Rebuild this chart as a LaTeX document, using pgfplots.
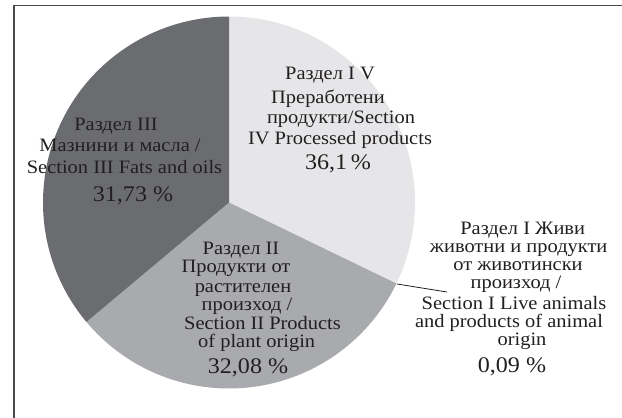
\documentclass[border=0pt]{standalone}
\usepackage{pgfplots}
\usepackage{pgfplotstable}
\pgfplotsset{compat=1.18}
\usepackage{fontspec}
\setmainfont[FakeStretch=1.08]{Liberation Serif}
\definecolor{slLight}{HTML}{E6E6E8}
\definecolor{slMid}{HTML}{A9AAAD}
\definecolor{slDark}{HTML}{6B6C70}
\definecolor{txt}{HTML}{231F20}
\definecolor{frame}{HTML}{4A4A4A}

% slices clockwise from 12 o'clock (values in %)
\pgfplotstableread{
value
32.08
0.09
31.73
36.1
}\piedata

\begin{document}
\begin{tikzpicture}
\pgfplotstablegetelem{0}{value}\of\piedata \let\va\pgfplotsretval
\pgfplotstablegetelem{1}{value}\of\piedata \let\vb\pgfplotsretval
\pgfplotstablegetelem{2}{value}\of\piedata \let\vc\pgfplotsretval
\pgfplotstablegetelem{3}{value}\of\piedata \let\vd\pgfplotsretval
\pgfmathsetmacro\aA{90}
\pgfmathsetmacro\aB{\aA-3.6*\va}
\pgfmathsetmacro\aC{\aB-3.6*\vb}
\pgfmathsetmacro\aD{\aC-3.6*\vc}
\pgfmathsetmacro\aE{\aD-3.6*\vd}
\path[use as bounding box] (0,0) rectangle (622bp,418bp);
\begin{axis}[
  x=1bp, y=1bp,
  xmin=0, xmax=622, ymin=0, ymax=418,
  hide axis, scale only axis,
  anchor=origin, at={(0,0)},
  clip=true,
]
% frame
\draw[frame, line width=1.3bp] (axis cs:14,-50) -- (axis cs:14,412.3) -- (axis cs:700,412.3);
% pie slices
\fill[slLight] (axis cs:229,215.5) -- ++(\aA:186bp) arc[start angle=\aA, end angle=\aB, radius=186bp] -- cycle;
\fill[slLight] (axis cs:229,215.5) -- ++(\aB:186bp) arc[start angle=\aB, end angle=\aC, radius=186bp] -- cycle;
\fill[slMid] (axis cs:229,215.5) -- ++(\aC:186bp) arc[start angle=\aC, end angle=\aD, radius=186bp] -- cycle;
\fill[slDark] (axis cs:229,215.5) -- ++(\aD:186bp) arc[start angle=\aD, end angle=\aE, radius=186bp] -- cycle;
% leader line
\draw[txt, line width=0.8bp] (axis cs:397,134) -- (axis cs:447,126);
% labels
\tikzset{lab/.style={anchor=base, inner sep=0pt, text=txt, font=\fontsize{19}{20}\selectfont},
         pct/.style={anchor=base, inner sep=0pt, text=txt, font=\fontsize{22.4}{24}\selectfont}}
% Section IV
\node[lab] at (axis cs:330,338.5) {Раздел I V};
\node[lab] at (axis cs:328,314.5) {Преработени};
\node[lab] at (axis cs:341,294.5) {продукти/Section};
\node[lab] at (axis cs:340,274) {IV Processed products};
\node[pct] at (axis cs:338,249) {36,1\,\%};
% Section III
\node[lab] at (axis cs:116,287.5) {Раздел III};
\node[lab] at (axis cs:120,266.3) {Мазнини и масла /};
\node[lab] at (axis cs:124.5,244.7) {Section III Fats and oils};
\node[pct] at (axis cs:133,216.3) {31,73 \%};
% Section II
\node[lab] at (axis cs:241,164) {Раздел II};
\node[lab] at (axis cs:236,145.5) {Продукти от};
\node[lab] at (axis cs:243,126) {растителен};
\node[lab] at (axis cs:247,108) {произход /};
\node[lab] at (axis cs:262.5,88.5) {Section II Products};
\node[lab] at (axis cs:256.7,70.5) {of plant origin};
\node[pct] at (axis cs:248,45) {32,08 \%};
% Section I
\node[lab] at (axis cs:522.7,183.5) {Раздел I Живи};
\node[lab] at (axis cs:518.7,165.5) {животни и продукти};
\node[lab] at (axis cs:518,147.5) {от животински};
\node[lab] at (axis cs:516,129.5) {произход /};
\node[lab] at (axis cs:514,109) {Section I Live animals};
\node[lab] at (axis cs:509,90.5) {and products of animal};
\node[lab] at (axis cs:522,72.5) {origin};
\node[pct] at (axis cs:512,46) {0,09 \%};
\end{axis}
\end{tikzpicture}
\end{document}
